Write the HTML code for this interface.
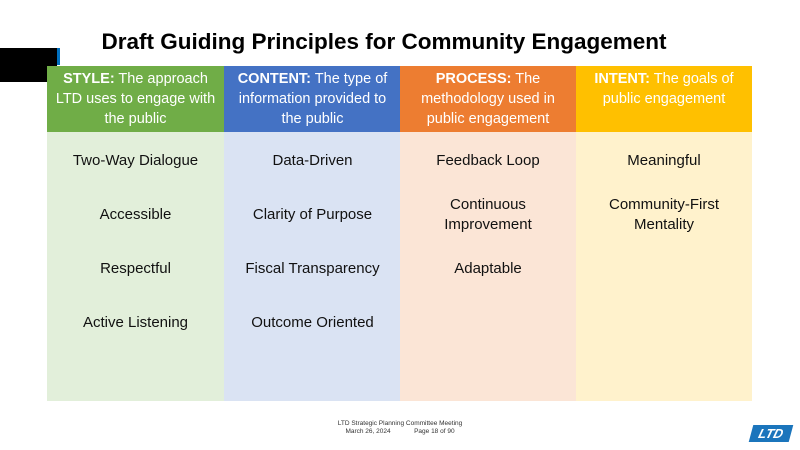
<!DOCTYPE html>
<html><head><style>
body{margin:0;width:800px;height:450px;background:#fff;position:relative;overflow:hidden;font-family:"Liberation Sans",sans-serif}
.a{position:absolute}
.t{position:absolute;left:84px;top:29px;width:600px;text-align:center;font-weight:bold;font-size:22.5px;color:#000}
.col{position:absolute;top:66px;width:177px}
.h{height:66px;color:#fff;font-size:14.5px;line-height:20px;text-align:center;padding-top:3px;box-sizing:border-box}
.b{height:269px;position:relative}
.i{position:absolute;left:0;width:100%;text-align:center;font-size:15px;line-height:20px;color:#111}
</style></head><body>
<div class="a" style="left:0;top:48px;width:57px;height:34px;background:#000"></div>
<div class="a" style="left:57px;top:48px;width:3px;height:17px;background:#0070c0"></div>
<div class="t">Draft Guiding Principles for Community Engagement</div>

<div class="col" style="left:47px">
<div class="h" style="background:#70ad47"><b>STYLE:</b> The approach<br>LTD uses to engage with<br>the public</div>
<div class="b" style="background:#e2efda">
<div class="i" style="top:19px">Two-Way Dialogue</div>
<div class="i" style="top:73px">Accessible</div>
<div class="i" style="top:127px">Respectful</div>
<div class="i" style="top:181px">Active Listening</div>
</div></div>

<div class="col" style="left:224px">
<div class="h" style="background:#4472c4"><b>CONTENT:</b> The type of<br>information provided to<br>the public</div>
<div class="b" style="background:#dae3f3">
<div class="i" style="top:19px">Data-Driven</div>
<div class="i" style="top:73px">Clarity of Purpose</div>
<div class="i" style="top:127px">Fiscal Transparency</div>
<div class="i" style="top:181px">Outcome Oriented</div>
</div></div>

<div class="col" style="left:400px;width:176px">
<div class="h" style="background:#ed7d31"><b>PROCESS:</b> The<br>methodology used in<br>public engagement</div>
<div class="b" style="background:#fbe5d6">
<div class="i" style="top:19px">Feedback Loop</div>
<div class="i" style="top:63px">Continuous<br>Improvement</div>
<div class="i" style="top:127px">Adaptable</div>
</div></div>

<div class="col" style="left:576px;width:176px">
<div class="h" style="background:#ffc000"><b>INTENT:</b> The goals of<br>public engagement</div>
<div class="b" style="background:#fff2cc">
<div class="i" style="top:19px">Meaningful</div>
<div class="i" style="top:63px">Community-First<br>Mentality</div>
</div></div>

<div class="a" style="left:300px;top:420px;width:200px;text-align:center;font-size:6.5px;line-height:8px;color:#333">LTD Strategic Planning Committee Meeting<br>March 26, 2024 &nbsp; &nbsp; &nbsp; &nbsp; &nbsp; &nbsp; Page 18 of 90</div>
<div class="a" style="left:751px;top:425px;width:40px;height:17px;background:#1b75bc;transform:skewX(-15deg);color:#fff;font-size:13px;font-weight:bold;font-style:italic;line-height:17px;text-align:center">LTD</div>
</body></html>
